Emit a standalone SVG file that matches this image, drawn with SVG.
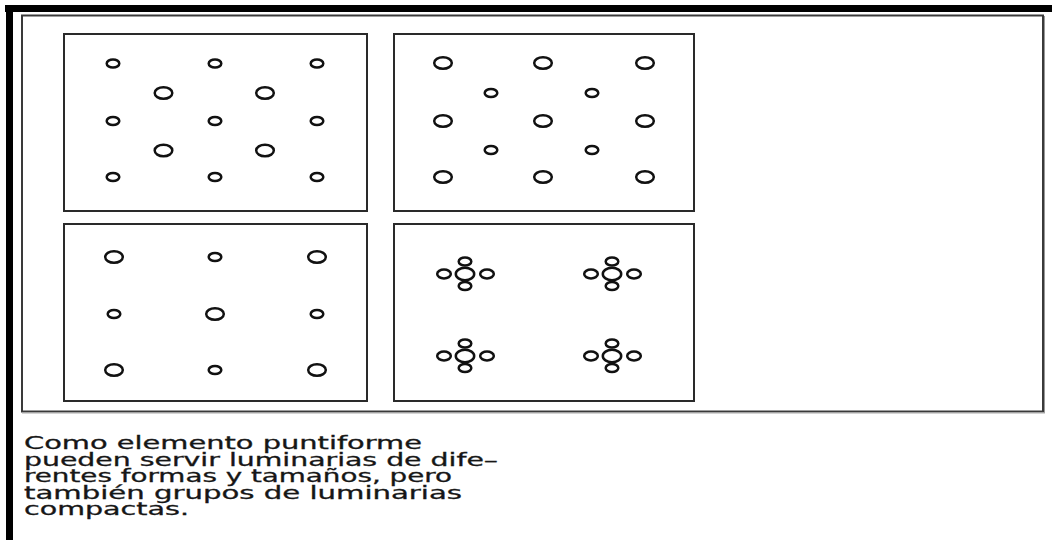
<svg xmlns="http://www.w3.org/2000/svg" width="1052" height="540" viewBox="0 0 1052 540">
<style>
.panel{fill:#fff;stroke:#2a2a2a;stroke-width:2}
.lum{fill:#fff;stroke:#111;stroke-width:2.5}
.cap{font-family:"DejaVu Sans","Liberation Sans",sans-serif;font-size:17px;fill:#161616;stroke:#161616;stroke-width:0.3}
</style>
<defs>
<ellipse id="s" class="lum" rx="6.3" ry="4.1"/>
<ellipse id="l" class="lum" rx="8.8" ry="5.8"/>
<g id="cl">
<ellipse class="lum" cx="-21" cy="0" rx="6.8" ry="4.4"/>
<ellipse class="lum" cx="22" cy="0" rx="6.8" ry="4.4"/>
<ellipse class="lum" cx="0" cy="-12.5" rx="6.3" ry="4.1"/>
<ellipse class="lum" cx="0" cy="12" rx="6.3" ry="4.1"/>
<ellipse class="lum" cx="0" cy="0" rx="9.2" ry="6.2"/>
</g>
</defs>
<rect width="1052" height="540" fill="#fff"/>
<g id="frame">
<rect x="5" y="5" width="1047" height="7" fill="#000"/>
<rect x="6" y="5" width="7" height="535" fill="#000"/>
<rect x="22" y="15.5" width="1021" height="396" fill="none" stroke="#3a3a3a" stroke-width="2"/>
<line x1="1044.5" y1="16" x2="1044.5" y2="413" stroke="#999" stroke-width="1"/>
<line x1="22" y1="413" x2="1045" y2="413" stroke="#aaa" stroke-width="1"/>
</g>
<g id="panel-1">
<rect class="panel" x="64" y="34" width="303" height="177"/>
<use href="#s" x="113" y="63.5"/><use href="#s" x="215" y="63.5"/><use href="#s" x="317" y="63.5"/>
<use href="#l" x="163.5" y="93"/><use href="#l" x="265" y="93"/>
<use href="#s" x="113" y="121"/><use href="#s" x="215" y="121"/><use href="#s" x="317" y="121"/>
<use href="#l" x="163.5" y="150.5"/><use href="#l" x="265" y="150.5"/>
<use href="#s" x="113" y="177"/><use href="#s" x="215" y="177"/><use href="#s" x="317" y="177"/>
</g>
<g id="panel-2">
<rect class="panel" x="394" y="34" width="300" height="177"/>
<use href="#l" x="443" y="63"/><use href="#l" x="543" y="63"/><use href="#l" x="645" y="63"/>
<use href="#s" x="491" y="93"/><use href="#s" x="592" y="93"/>
<use href="#l" x="443" y="121"/><use href="#l" x="543" y="121"/><use href="#l" x="645" y="121"/>
<use href="#s" x="491" y="150"/><use href="#s" x="592" y="150"/>
<use href="#l" x="443" y="177"/><use href="#l" x="543" y="177"/><use href="#l" x="645" y="177"/>
</g>
<g id="panel-3">
<rect class="panel" x="64" y="224" width="303" height="177"/>
<use href="#l" x="114" y="257"/><use href="#s" x="215" y="257"/><use href="#l" x="317" y="257"/>
<use href="#s" x="114" y="314"/><use href="#l" x="215" y="314"/><use href="#s" x="317" y="314"/>
<use href="#l" x="114" y="370"/><use href="#s" x="215" y="370"/><use href="#l" x="317" y="370"/>
</g>
<g id="panel-4">
<rect class="panel" x="394" y="224" width="300" height="177"/>
<use href="#cl" x="465" y="274"/><use href="#cl" x="612" y="274"/>
<use href="#cl" x="465" y="356"/><use href="#cl" x="612" y="356"/>
</g>
<g id="caption" class="cap">
<text x="24" y="449" textLength="398" lengthAdjust="spacingAndGlyphs">Como elemento puntiforme</text>
<text x="24" y="465.5" textLength="474" lengthAdjust="spacingAndGlyphs">pueden servir luminarias de dife–</text>
<text x="24" y="482" textLength="428" lengthAdjust="spacingAndGlyphs">rentes formas y tamaños, pero</text>
<text x="24" y="498.5" textLength="438" lengthAdjust="spacingAndGlyphs">también grupos de luminarias</text>
<text x="24" y="515" textLength="165" lengthAdjust="spacingAndGlyphs">compactas.</text>
</g>
</svg>
